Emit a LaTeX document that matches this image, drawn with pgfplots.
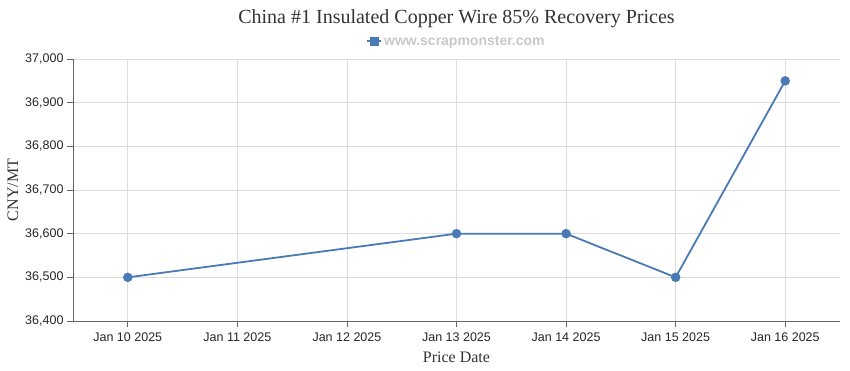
\documentclass[border=0pt]{standalone}
\usepackage{pgfplots}
\pgfplotsset{compat=1.18}
\usepackage{fontspec}
\setmainfont{Liberation Serif}
\newfontfamily\tickfont{Liberation Sans}
\definecolor{lineblue}{RGB}{74,122,181}
\definecolor{gridgray}{RGB}{221,221,221}
\definecolor{axisgray}{RGB}{102,102,102}
\definecolor{leggray}{RGB}{200,200,200}
\begin{document}
\begin{tikzpicture}[x=1pt,y=1pt]
\begin{axis}[
  at={(0,0)}, anchor=south west,
  scale only axis,
  width=767pt, height=262pt,
  xmin=-0.5, xmax=6.5,
  ymin=36400, ymax=37000,
  xtick={0,1,2,3,4,5,6},
  xticklabels={Jan 10 2025,Jan 11 2025,Jan 12 2025,Jan 13 2025,Jan 14 2025,Jan 15 2025,Jan 16 2025},
  ytick={36400,36500,36600,36700,36800,36900,37000},
  scaled y ticks=false,
  yticklabel style={/pgf/number format/fixed,/pgf/number format/1000 sep={,},/pgf/number format/assume math mode=true},
  xticklabel style={yshift=-2pt},
  ticklabel style={font=\tickfont\fontsize{12.5}{14}\selectfont, text=black!85},
  axis x line*=bottom, axis y line*=left,
  axis line style={axisgray, line width=0.8pt, -},
  tick style={axisgray, line width=0.8pt},
  tick align=outside,
  major tick length=6pt,
  xmajorgrids, ymajorgrids,
  grid style={gridgray, line width=0.6pt},
  xlabel={Price Date},
  ylabel={CNY/MT},
  label style={font=\fontsize{16}{18}\selectfont, text=black!80},
  xlabel style={yshift=-4pt},
  ylabel style={yshift=0pt},
  title={China \#1 Insulated Copper Wire 85\% Recovery Prices},
  title style={at={(0.5,1.13)}, anchor=center, font=\fontsize{20}{22}\selectfont, text=black!80},
  legend style={at={(0.5,1.068)}, anchor=center, draw=none, fill=none,
    font=\tickfont\bfseries\fontsize{14}{16}\selectfont, text=leggray},
  legend image code/.code={
    \draw[lineblue, line width=1.8pt] (0pt,0pt) -- (14pt,0pt);
    \fill[lineblue] (3.5pt,-3.5pt) rectangle (10.5pt,3.5pt);
  },
  clip=false,
]
\addplot[lineblue, line width=1.8pt, mark=*, mark size=3.8pt, mark options={fill=lineblue, draw=lineblue}]
  coordinates {(0,36500) (3,36600) (4,36600) (5,36500) (6,36950)};
\addlegendentry{www.scrapmonster.com}
\end{axis}
\pgfresetboundingbox
\path (-73pt,-49pt) rectangle (777pt,321pt);
\end{tikzpicture}
\end{document}
